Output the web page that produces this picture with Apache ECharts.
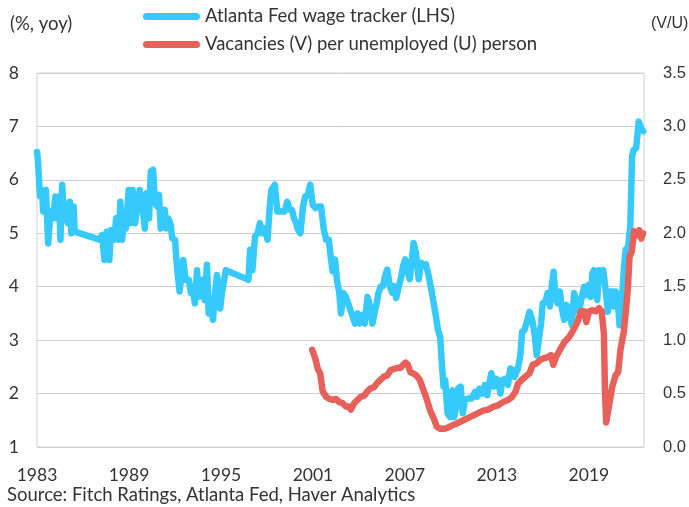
<!DOCTYPE html>
<html>
<head>
<meta charset="utf-8">
<script src="https://cdn.jsdelivr.net/npm/echarts@6/dist/echarts.min.js"></script>
<style>
  html, body { margin: 0; padding: 0; background: #fff; }
  #chart { width: 689px; height: 507px; }
</style>
</head>
<body>
<div id="chart"></div>
<script>
// Atlanta Fed wage tracker, % yoy (left axis)
const wageYears = [
  1983.0, 1983.05, 1983.2, 1983.33, 1983.4, 1983.58, 1983.73, 1983.88, 1984.05, 1984.2,
  1984.3, 1984.43, 1984.53, 1984.64, 1984.77, 1984.92, 1985.03, 1985.14, 1985.24, 1985.39,
  1985.46, 1987.08, 1987.25, 1987.4, 1987.55, 1987.72, 1987.83, 1988.05, 1988.16, 1988.33,
  1988.44, 1988.55, 1988.7, 1988.8, 1988.98, 1989.13, 1989.24, 1989.4, 1989.55, 1989.7,
  1989.88, 1990.03, 1990.16, 1990.31, 1990.42, 1990.57, 1990.7, 1990.85, 1990.96, 1991.07,
  1991.23, 1991.33, 1991.44, 1991.57, 1991.72, 1991.82, 1992.0, 1992.15, 1992.3, 1992.43,
  1992.54, 1992.69, 1992.9, 1993.05, 1993.16, 1993.3, 1993.44, 1993.55, 1993.72, 1993.81,
  1993.94, 1994.09, 1994.2, 1994.3, 1994.48, 1994.59, 1994.74, 1994.85, 1994.95, 1995.06,
  1995.17, 1995.32, 1996.79, 1996.9, 1997.05, 1997.22, 1997.39, 1997.54, 1997.69, 1997.87,
  1998.04, 1998.19, 1998.29, 1998.51, 1998.68, 1998.94, 1999.15, 1999.33, 1999.48, 1999.63,
  1999.76, 1999.91, 1999.99, 2000.18, 2000.35, 2000.5, 2000.67, 2000.82, 2000.99, 2001.17,
  2001.32, 2001.53, 2001.71, 2001.86, 2002.03, 2002.18, 2002.29, 2002.44, 2002.57, 2002.72,
  2002.83, 2003.0, 2003.15, 2003.37, 2003.52, 2003.74, 2003.91, 2004.02, 2004.23, 2004.38,
  2004.56, 2004.73, 2004.88, 2005.03, 2005.16, 2005.27, 2005.42, 2005.57, 2005.7, 2005.85,
  2006.02, 2006.17, 2006.28, 2006.43, 2006.6, 2006.75, 2006.88, 2007.03, 2007.19, 2007.32,
  2007.42, 2007.57, 2007.72, 2007.9, 2008.05, 2008.22, 2008.37, 2008.55, 2008.72, 2008.87,
  2009.02, 2009.15, 2009.3, 2009.41, 2009.52, 2009.63, 2009.78, 2009.95, 2010.1, 2010.21,
  2010.34, 2010.49, 2010.64, 2010.77, 2010.92, 2011.13, 2011.35, 2011.57, 2011.72, 2011.85,
  2012.06, 2012.21, 2012.37, 2012.5, 2012.64, 2012.8, 2012.93, 2013.07, 2013.23, 2013.36,
  2013.57, 2013.72, 2013.88, 2014.05, 2014.15, 2014.37, 2014.52, 2014.65, 2014.8, 2014.95,
  2015.13, 2015.3, 2015.45, 2015.6, 2015.73, 2015.88, 2015.99, 2016.16, 2016.31, 2016.46,
  2016.59, 2016.7, 2016.81, 2016.96, 2017.11, 2017.24, 2017.39, 2017.54, 2017.72, 2017.89,
  2018.04, 2018.19, 2018.36, 2018.54, 2018.69, 2018.84, 2018.97, 2019.12, 2019.23, 2019.33,
  2019.44, 2019.55, 2019.66, 2019.81, 2019.94, 2020.09, 2020.24, 2020.35, 2020.52, 2020.63,
  2020.74, 2020.89, 2021.0, 2021.1, 2021.21, 2021.3, 2021.4, 2021.56, 2021.7, 2021.82,
  2021.92, 2022.08, 2022.16, 2022.25, 2022.36, 2022.46, 2022.55
];
const wageValues = [
  6.52, 6.4, 5.69, 5.81, 5.41, 5.81, 4.81, 5.41, 5.28, 5.69,
  5.28, 5.69, 4.88, 5.91, 5.25, 5.5, 5.19, 5.59, 5.0, 5.5,
  5.03, 4.88, 4.97, 4.5, 5.03, 4.5, 5.06, 4.88, 5.28, 4.88,
  5.59, 4.88, 5.31, 5.09, 5.81, 5.19, 5.81, 5.19, 5.5, 5.81,
  5.5, 5.09, 5.75, 5.28, 6.16, 6.19, 5.56, 5.5, 5.72, 5.09,
  5.19, 5.44, 5.09, 5.28, 5.16, 4.91, 4.88, 4.31, 3.91, 3.91,
  4.5, 4.13, 4.13, 3.88, 4.0, 3.69, 4.31, 3.81, 3.94, 4.13,
  3.75, 4.41, 3.5, 3.75, 3.38, 3.81, 4.22, 4.0, 3.59, 3.88,
  4.06, 4.31, 4.13, 4.69, 4.31, 4.94, 5.0, 5.19, 5.0, 5.09,
  4.88, 5.53, 5.81, 5.91, 5.41, 5.41, 5.41, 5.59, 5.44, 5.44,
  5.28, 5.19, 5.09, 5.0, 5.5, 5.69, 5.72, 5.91, 5.53, 5.47,
  5.5, 5.5, 5.07, 4.88, 4.88, 4.51, 4.29, 4.51, 4.12, 3.88,
  3.5, 3.88, 3.81, 3.63, 3.5, 3.31, 3.5, 3.31, 3.47, 3.31,
  3.81, 3.63, 3.31, 3.53, 3.69, 3.88, 4.0, 4.01, 4.2, 4.32,
  4.01, 3.89, 4.01, 3.79, 4.01, 4.17, 4.39, 4.51, 4.26, 4.14,
  4.42, 4.82, 4.63, 4.14, 4.45, 4.39, 4.42, 4.2, 3.95, 3.7,
  3.45, 3.2, 3.06, 2.56, 2.13, 2.25, 1.63, 1.56, 2.06, 1.56,
  1.75, 2.1, 2.13, 1.63, 1.88, 1.91, 1.91, 2.03, 1.94, 2.09,
  2.0, 2.16, 1.97, 2.19, 2.38, 2.13, 2.28, 2.25, 2.0, 2.25,
  2.28, 2.16, 2.47, 2.44, 2.31, 2.47, 2.69, 3.16, 3.19, 3.34,
  3.53, 3.38, 3.13, 2.72, 2.69, 3.31, 3.69, 3.72, 3.88, 3.63,
  4.06, 4.28, 3.84, 3.69, 3.91, 3.59, 3.38, 3.66, 3.5, 3.28,
  3.88, 3.69, 3.53, 3.81, 4.0, 3.84, 4.03, 3.81, 4.25, 4.31,
  3.88, 3.75, 4.31, 4.19, 4.31, 3.94, 3.53, 3.91, 3.91, 3.63,
  3.91, 3.72, 3.28, 3.69, 4.0, 4.4, 4.69, 4.75, 5.13, 6.44,
  6.56, 6.59, 6.81, 7.09, 7.06, 6.94, 6.91
];

// Vacancies per unemployed person, V/U (right axis)
const vuYears = [
  2000.95, 2001.15, 2001.32, 2001.47, 2001.64, 2001.86, 2002.07, 2002.29, 2002.5, 2002.72,
  2002.94, 2003.15, 2003.3, 2003.48, 2003.69, 2003.9, 2004.12, 2004.34, 2004.55, 2004.77,
  2004.99, 2005.2, 2005.42, 2005.63, 2005.85, 2006.07, 2006.28, 2006.5, 2006.71, 2006.89,
  2007.04, 2007.19, 2007.36, 2007.53, 2007.75, 2007.96, 2008.22, 2008.44, 2008.65, 2008.87,
  2009.08, 2009.3, 2009.52, 2009.78, 2010.06, 2010.38, 2010.8, 2011.24, 2011.67, 2012.11,
  2012.43, 2012.75, 2013.08, 2013.4, 2013.72, 2014.0, 2014.22, 2014.37, 2014.59, 2014.87,
  2015.13, 2015.34, 2015.56, 2015.77, 2016.03, 2016.31, 2016.53, 2016.68, 2016.85, 2017.11,
  2017.39, 2017.72, 2017.93, 2018.15, 2018.32, 2018.47, 2018.69, 2018.84, 2019.01, 2019.23,
  2019.44, 2019.66, 2019.83, 2019.98, 2020.05, 2020.13, 2020.3, 2020.52, 2020.74, 2020.91,
  2021.06, 2021.28, 2021.43, 2021.55, 2021.65, 2021.8, 2021.95, 2022.1, 2022.29, 2022.42,
  2022.53
];
const vuValues = [
  0.91, 0.83, 0.73, 0.69, 0.52, 0.47, 0.45, 0.44, 0.45, 0.42,
  0.41, 0.38, 0.38, 0.35, 0.41, 0.44, 0.47, 0.48, 0.52, 0.55,
  0.56, 0.6, 0.63, 0.66, 0.67, 0.72, 0.73, 0.74, 0.74, 0.77,
  0.79, 0.77, 0.7, 0.69, 0.67, 0.63, 0.53, 0.44, 0.34, 0.27,
  0.19, 0.17, 0.17, 0.18, 0.2, 0.22, 0.25, 0.28, 0.31, 0.34,
  0.35, 0.375, 0.39, 0.42, 0.44, 0.47, 0.52, 0.59, 0.625, 0.66,
  0.69, 0.77, 0.78, 0.81, 0.83, 0.84, 0.86, 0.77, 0.84, 0.91,
  0.98, 1.03, 1.08, 1.14, 1.19, 1.27, 1.27, 1.17, 1.27, 1.28,
  1.27, 1.3, 1.27, 1.06, 0.53, 0.23, 0.375, 0.56, 0.67, 0.7,
  0.91, 1.08, 1.3, 1.5, 1.78, 1.83, 2.02, 1.98, 2.03, 1.95,
  2.0
];

const xTicks = ['1983', '1989', '1995', '2001', '2007', '2013', '2019'];
const seriesNames = ['Atlanta Fed wage tracker (LHS)', 'Vacancies (V) per unemployed (U) person'];

const BLUE = '#36CAFC';
const RED = '#E8605A';
const TEXT = '#333333';
const LATO = 'Lato';

const chart = echarts.init(document.getElementById('chart'));

const capsule = 'path://M3.5,0 L53.5,0 A3.5,3.5 0 0 1 53.5,7 L3.5,7 A3.5,3.5 0 0 1 3.5,0 Z';

chart.setOption({
  animation: false,
  backgroundColor: '#fff',
  grid: {
    left: 37, right: 41, top: 73, bottom: 60,
    show: true, borderColor: '#d0d0d0', borderWidth: 1
  },
  legend: {
    data: seriesNames,
    orient: 'vertical',
    left: 143,
    top: 7,
    padding: 0,
    itemWidth: 57,
    itemHeight: 7,
    itemGap: 9,
    itemTextGap: 3,
    icon: capsule,
    textStyle: { fontFamily: LATO, fontSize: 18.5, color: TEXT }
  },
  xAxis: {
    type: 'value',
    min: 1983,
    max: 2022.6,
    interval: 6,
    axisLine: { show: false },
    axisTick: { show: false },
    splitLine: { show: false },
    axisLabel: {
      fontFamily: LATO, fontSize: 17.5, color: TEXT, margin: 19,
      showMaxLabel: false,
      formatter: v => (xTicks.includes(String(v)) ? String(v) : '')
    }
  },
  yAxis: [
    {
      type: 'value',
      min: 1, max: 8, interval: 1,
      axisLine: { show: false },
      axisTick: { show: false },
      splitLine: { lineStyle: { color: '#d0d0d0', width: 1 } },
      axisLabel: { fontFamily: LATO, fontSize: 17.5, color: TEXT, margin: 18 }
    },
    {
      type: 'value',
      min: 0, max: 3.5, interval: 0.5,
      axisLine: { show: false },
      axisTick: { show: false },
      splitLine: { show: false },
      axisLabel: {
        fontFamily: 'Liberation Sans', fontSize: 16.5, color: TEXT, margin: 19,
        formatter: v => v.toFixed(1)
      }
    }
  ],
  graphic: [
    { type: 'text', x: 10, y: 24, style: { text: '(%, yoy)', font: '18.5px Lato', fill: TEXT, verticalAlign: 'middle' } },
    { type: 'text', x: 651, y: 24, style: { text: '(V/U)', font: '16px "Liberation Sans"', fill: TEXT, verticalAlign: 'middle' } },
    { type: 'text', x: 7, y: 495, style: { text: 'Source: Fitch Ratings, Atlanta Fed, Haver Analytics', font: '18.5px Lato', fill: TEXT, verticalAlign: 'middle' } }
  ],
  series: [
    {
      name: seriesNames[0],
      type: 'line',
      yAxisIndex: 0,
      showSymbol: false,
      color: BLUE,
      lineStyle: { width: 6.5, color: BLUE, cap: 'round', join: 'round' },
      data: wageYears.map((y, i) => [y, wageValues[i]])
    },
    {
      name: seriesNames[1],
      type: 'line',
      yAxisIndex: 1,
      showSymbol: false,
      color: RED,
      lineStyle: { width: 6.5, color: RED, cap: 'round', join: 'round' },
      data: vuYears.map((y, i) => [y, vuValues[i]])
    }
  ]
});
</script>
</body>
</html>
